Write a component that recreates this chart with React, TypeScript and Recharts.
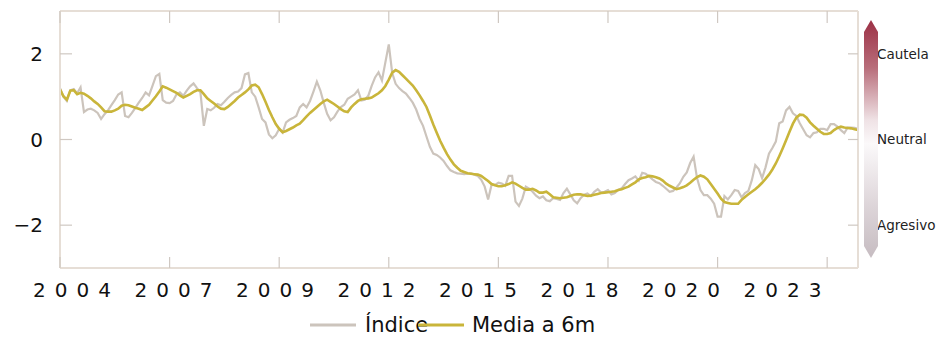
import { LineChart, Line, XAxis, YAxis } from "recharts";

// Monthly readings from Jan 2004
const indice = [
  1.2, 1.0, 0.9, 1.15, 1.18, 1.08, 1.22, 0.64, 0.7, 0.72,
  0.68, 0.62, 0.48, 0.59, 0.68, 0.8, 0.92, 1.05, 1.1, 0.55,
  0.52, 0.62, 0.74, 0.86, 0.97, 1.1, 1.03, 1.25, 1.48, 1.53,
  0.92, 0.86, 0.85, 0.9, 1.05, 1.1, 1.02, 1.14, 1.24, 1.31,
  1.2, 1.1, 0.32, 0.71, 0.68, 0.74, 0.83, 0.8, 0.88, 0.97,
  1.04, 1.1, 1.12, 1.2, 1.52, 1.55, 1.1, 1.0, 0.75, 0.48,
  0.4, 0.12, 0.03, 0.1, 0.25, 0.16, 0.4, 0.46, 0.5, 0.55,
  0.75, 0.83, 0.75, 0.9, 1.12, 1.35, 1.15, 0.86, 0.6, 0.45,
  0.52, 0.65, 0.76, 0.81, 0.95, 1.0, 1.05, 1.15, 0.91, 0.93,
  1.02, 1.25, 1.45, 1.57, 1.38, 1.8, 2.22, 1.55, 1.3, 1.2,
  1.13, 1.07, 0.97, 0.86, 0.7, 0.48, 0.32, 0.07, -0.17, -0.33,
  -0.36, -0.42, -0.5, -0.62, -0.72, -0.76, -0.79, -0.8, -0.81, -0.8,
  -0.79, -0.82, -0.85, -0.94, -1.1, -1.4, -1.06, -1.06, -1.01, -1.03,
  -1.08, -0.85, -0.85, -1.45, -1.55, -1.38, -1.1, -1.15, -1.22, -1.31,
  -1.37, -1.33, -1.42, -1.44, -1.37, -1.39, -1.41, -1.25, -1.15, -1.28,
  -1.42, -1.49, -1.37, -1.29, -1.26, -1.32, -1.22, -1.16, -1.24, -1.22,
  -1.18, -1.28, -1.25, -1.18, -1.14, -1.04, -0.95, -0.91, -0.86, -0.96,
  -0.78, -0.8, -0.86, -0.93, -0.99, -1.02, -1.08, -1.15, -1.22, -1.2,
  -1.12, -1.02, -0.87, -0.77, -0.55, -0.4, -0.9, -1.18, -1.3, -1.3,
  -1.38, -1.5, -1.8, -1.8, -1.32, -1.4, -1.3, -1.18, -1.2, -1.35,
  -1.25, -1.2, -0.95, -0.6, -0.69, -0.9, -0.65, -0.33, -0.2, -0.05,
  0.38, 0.42, 0.68, 0.76, 0.61, 0.55, 0.38, 0.24, 0.1, 0.05,
  0.15, 0.17, 0.25, 0.25, 0.22, 0.36, 0.36, 0.3, 0.22, 0.15,
  0.28, 0.28, 0.27, 0.25,
];

const media6m = [
  1.17, 1.01, 0.93, 1.14, 1.15, 1.06, 1.09, 1.07, 1.02, 0.96,
  0.89, 0.83, 0.75, 0.66, 0.65, 0.65, 0.68, 0.72, 0.79, 0.81,
  0.8, 0.77, 0.74, 0.72, 0.69, 0.75, 0.81, 0.91, 1.01, 1.12,
  1.24, 1.21, 1.17, 1.13, 1.09, 1.03, 0.98, 1.02, 1.06, 1.11,
  1.15, 1.15, 1.06, 0.96, 0.9, 0.84, 0.77, 0.72, 0.71, 0.76,
  0.83, 0.9, 0.98, 1.04, 1.1, 1.17, 1.26, 1.28, 1.22, 1.06,
  0.88, 0.69, 0.52, 0.36, 0.25, 0.17, 0.2, 0.24, 0.28, 0.33,
  0.37, 0.45, 0.54, 0.62, 0.69, 0.76, 0.83, 0.89, 0.93, 0.88,
  0.83, 0.77, 0.71, 0.66, 0.64, 0.75, 0.83, 0.9, 0.94, 0.95,
  0.96, 0.98, 1.03, 1.08, 1.15, 1.25, 1.4, 1.56, 1.62, 1.58,
  1.5, 1.42, 1.34, 1.26, 1.15, 1.03, 0.9, 0.76, 0.56, 0.35,
  0.16, -0.03, -0.19, -0.34, -0.47, -0.58, -0.66, -0.73, -0.76, -0.79,
  -0.8, -0.81, -0.82, -0.85, -0.91, -0.97, -1.04, -1.07, -1.09, -1.09,
  -1.07, -1.04, -1.0, -1.03, -1.08, -1.13, -1.17, -1.17, -1.15, -1.19,
  -1.24, -1.24, -1.22, -1.28, -1.35, -1.36, -1.37, -1.36, -1.35, -1.32,
  -1.29, -1.28, -1.28, -1.3, -1.32, -1.31, -1.29, -1.27, -1.25, -1.24,
  -1.23, -1.22, -1.21, -1.18, -1.16, -1.13, -1.1, -1.05, -1.0, -0.93,
  -0.9, -0.88, -0.85, -0.86, -0.88, -0.91, -0.96, -1.03, -1.08, -1.12,
  -1.16, -1.14, -1.11, -1.07, -1.01, -0.94, -0.88, -0.84, -0.87, -0.93,
  -1.04, -1.15, -1.26, -1.38, -1.46, -1.48, -1.5, -1.5, -1.5, -1.41,
  -1.34, -1.28, -1.22, -1.16, -1.09, -1.01, -0.92, -0.82, -0.7, -0.56,
  -0.39, -0.21, -0.02, 0.18, 0.37, 0.51, 0.58, 0.57, 0.51, 0.4,
  0.32, 0.25, 0.18, 0.13, 0.13, 0.15, 0.22, 0.27, 0.3, 0.28,
  0.27, 0.26, 0.24, 0.22,
];

const tickMonths = [0, 32, 64, 96, 128, 160, 192, 224];
const tickYears = ["2004", "2007", "2009", "2012", "2015", "2018", "2020", "2023"];
const valueTicks = [-2, 0, 2];
const stanceLabels: Record<number, string> = { [-2]: "Agresivo", 0: "Neutral", 2: "Cautela" };

// both value axes share the same [-3, 3] scale; the right one carries the stance labels
const series = [
  { key: "indice", name: "Índice", color: "#ccc4bc", width: 2.2, axis: "left" },
  { key: "media", name: "Media a 6m", color: "#c9b53a", width: 2.6, axis: "right" },
];

const data = indice.map((v, i) => ({ t: i, indice: v, media: media6m[i] }));

const FONT = "'DejaVu Sans', Verdana, sans-serif";
const FRAME = "#e6ded6";
const TICK = "#cfc8c2";

const BottomTick = (props: any) => {
  const { x, y, index } = props;
  // year labels sit a little left of their tick and drift further left along the axis
  const lx = x - 27 - 8.1 * index;
  return (
    <g>
      <line x1={x} y1={y} x2={x} y2={y - 11} stroke={TICK} strokeWidth={1.2} />
      <text x={lx} y={y + 29} fontFamily={FONT} fontSize={20} letterSpacing={9} fill="#111">
        {tickYears[index]}
      </text>
    </g>
  );
};

const TopTick = (props: any) => {
  const { x, y } = props;
  return <line x1={x} y1={y} x2={x} y2={y + 12} stroke={TICK} strokeWidth={1.2} />;
};

const LeftTick = (props: any) => {
  const { x, y, payload } = props;
  const v = payload.value as number;
  return (
    <g>
      <line x1={x} y1={y} x2={x + 12} y2={y} stroke={TICK} strokeWidth={1.2} />
      <text x={x - 17} y={y} dy="0.36em" textAnchor="end" fontFamily={FONT} fontSize={20} fill="#111">
        {v < 0 ? `\u2212${Math.abs(v)}` : v}
      </text>
    </g>
  );
};

const RightTick = (props: any) => {
  const { x, y, payload } = props;
  return (
    <g>
      <line x1={x} y1={y} x2={x - 10} y2={y} stroke={TICK} strokeWidth={1.2} />
      <text x={x + 19} y={y} dy="0.36em" fontFamily={FONT} fontSize={13.5} fill="#222">
        {stanceLabels[payload.value as number]}
      </text>
    </g>
  );
};

export default function App() {
  return (
    <div style={{ position: "absolute", left: 0, top: 0, width: 938, height: 338, background: "#fff" }}>
      <LineChart width={938} height={338} data={data} margin={{ top: 1, right: 79, bottom: 40, left: 0 }}>
        <XAxis
          xAxisId="top"
          orientation="top"
          dataKey="t"
          type="number"
          domain={[0, indice.length - 1]}
          ticks={tickMonths}
          height={10}
          tickSize={0}
          tickMargin={0}
          axisLine={{ stroke: FRAME, strokeWidth: 2 }}
          tickLine={false}
          tick={<TopTick />}
        />
        <XAxis
          dataKey="t"
          type="number"
          domain={[0, indice.length - 1]}
          ticks={tickMonths}
          interval={0}
          height={30}
          tickSize={0}
          tickMargin={0}
          axisLine={{ stroke: FRAME, strokeWidth: 2 }}
          tickLine={false}
          tick={<BottomTick />}
        />
        <YAxis
          yAxisId="left"
          domain={[-3, 3]}
          ticks={valueTicks}
          width={60}
          tickSize={0}
          tickMargin={0}
          axisLine={{ stroke: FRAME, strokeWidth: 2 }}
          tickLine={false}
          tick={<LeftTick />}
        />
        <YAxis
          yAxisId="right"
          orientation="right"
          type="number"
          domain={[-3, 3]}
          ticks={valueTicks}
          width={1}
          tickSize={0}
          tickMargin={0}
          axisLine={{ stroke: FRAME, strokeWidth: 2 }}
          tickLine={false}
          tick={<RightTick />}
        />
        {series.map((s) => (
          <Line
            key={s.key}
            yAxisId={s.axis}
            type="linear"
            dataKey={s.key}
            name={s.name}
            stroke={s.color}
            strokeWidth={s.width}
            dot={false}
            isAnimationActive={false}
          />
        ))}
      </LineChart>

      <svg
        width={938}
        height={338}
        style={{ position: "absolute", left: 0, top: 0, pointerEvents: "none" }}
      >
        <defs>
          <linearGradient id="stance" x1="0" y1="0" x2="0" y2="1">
            <stop offset="0" stopColor="#9c3045" />
            <stop offset="0.2" stopColor="#b86d7a" />
            <stop offset="0.42" stopColor="#efe2e5" />
            <stop offset="0.52" stopColor="#fbf9fa" />
            <stop offset="0.78" stopColor="#ddd5d9" />
            <stop offset="1" stopColor="#c6bcc1" />
          </linearGradient>
        </defs>
        {/* stance colour bar */}
        <polygon
          points="871,20 864,32 864,246 871,258 878,246 878,32"
          fill="url(#stance)"
        />
        {/* legend */}
        {series.map((s, i) => {
          const x0 = 310 + i * 108;
          return (
            <g key={s.key}>
              <line x1={x0} y1={325} x2={x0 + 46} y2={325} stroke={s.color} strokeWidth={3} />
              <text x={x0 + 55 - i * 1} y={332} fontFamily={FONT} fontSize={21} fill="#111">
                {s.name}
              </text>
            </g>
          );
        })}
      </svg>
    </div>
  );
}
